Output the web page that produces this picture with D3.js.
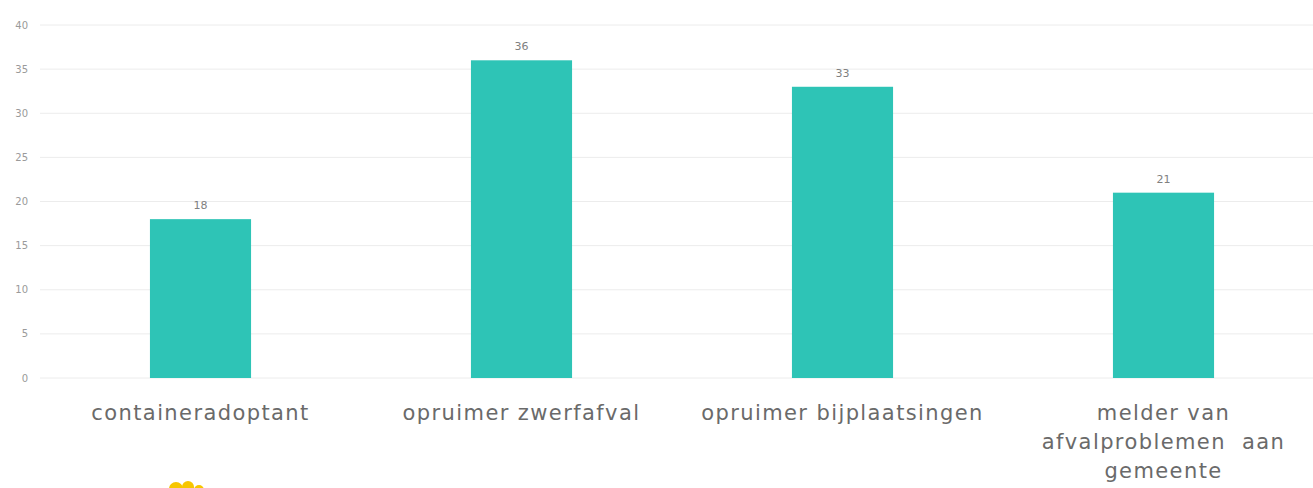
<!DOCTYPE html>
<meta charset="utf-8">
<script src="https://d3js.org/d3.v7.min.js"></script>
<style>
  body { margin: 0; background: #fff; }
</style>
<div id="my_dataviz"></div>
<script>

    // data
    const categories = ["containeradoptant", "opruimer zwerfafval", "opruimer bijplaatsingen", "melder van afvalproblemen aan gemeente"];
    const labelLines = [["containeradoptant"], ["opruimer zwerfafval"], ["opruimer bijplaatsingen"], ["melder van", "afvalproblemen  aan", "gemeente"]];
    const values = [18, 36, 33, 21];
    const yTicks = [0, 5, 10, 15, 20, 25, 30, 35, 40];

    const width = 1313, height = 488;

    const svg = d3.select("#my_dataviz")
      .append("svg")
        .attr("width", width)
        .attr("height", height)
        .style("font-family", "'DejaVu Sans', sans-serif");

    // X axis
    const x = d3.scaleBand()
      .range([40, 1324])
      .domain(categories)
      .paddingInner(0.685)
      .paddingOuter(0.3425);

    // Y axis
    const y = d3.scaleLinear()
      .domain([0, 40])
      .range([378, 25]);

    // gridlines
    svg.selectAll("grid")
      .data(yTicks)
      .join("line")
        .attr("x1", 40)
        .attr("x2", width)
        .attr("y1", d => y(d))
        .attr("y2", d => y(d))
        .attr("stroke", "#ececec")
        .attr("stroke-width", 1);

    svg.selectAll("ytick")
      .data(yTicks)
      .join("text")
        .attr("x", 28)
        .attr("y", d => y(d))
        .attr("dy", "0.35em")
        .attr("text-anchor", "end")
        .style("font-size", "10px")
        .style("fill", "#9a9a9a")
        .text(d => d);

    // bars
    svg.selectAll("bar")
      .data(values)
      .join("rect")
        .attr("x", (d, i) => x(categories[i]))
        .attr("y", d => y(d))
        .attr("width", x.bandwidth())
        .attr("height", d => y(0) - y(d))
        .style("fill", "#2ec4b6");

    // value labels
    svg.selectAll("vlabel")
      .data(values)
      .join("text")
        .attr("x", (d, i) => x(categories[i]) + x.bandwidth() / 2)
        .attr("y", d => y(d) - 10)
        .attr("text-anchor", "middle")
        .style("font-size", "11px")
        .style("fill", "#808080")
        .text(d => d);

    // category labels
    const cat = svg.selectAll("clabel")
      .data(categories)
      .join("text")
        .attr("x", d => x(d) + x.bandwidth() / 2)
        .attr("y", 420)
        .attr("text-anchor", "middle")
        .style("font-size", "21px")
        .style("letter-spacing", "1.4px")
        .style("fill", "#6a6a6a")
        .style("white-space", "pre");
    cat.selectAll("tspan")
      .data((d, i) => labelLines[i].map(t => ({t, cx: x(d) + x.bandwidth() / 2})))
      .join("tspan")
        .attr("x", d => d.cx)
        .attr("dy", (d, j) => j === 0 ? 0 : 29)
        .text(d => d.t);

    // partial logo at the bottom
    svg.selectAll("logo")
      .data([[176, 489, 7], [188, 487, 6], [199, 490, 5]])
      .join("circle")
        .attr("cx", d => d[0])
        .attr("cy", d => d[1])
        .attr("r", d => d[2])
        .style("fill", "#f7c600");
</script>
